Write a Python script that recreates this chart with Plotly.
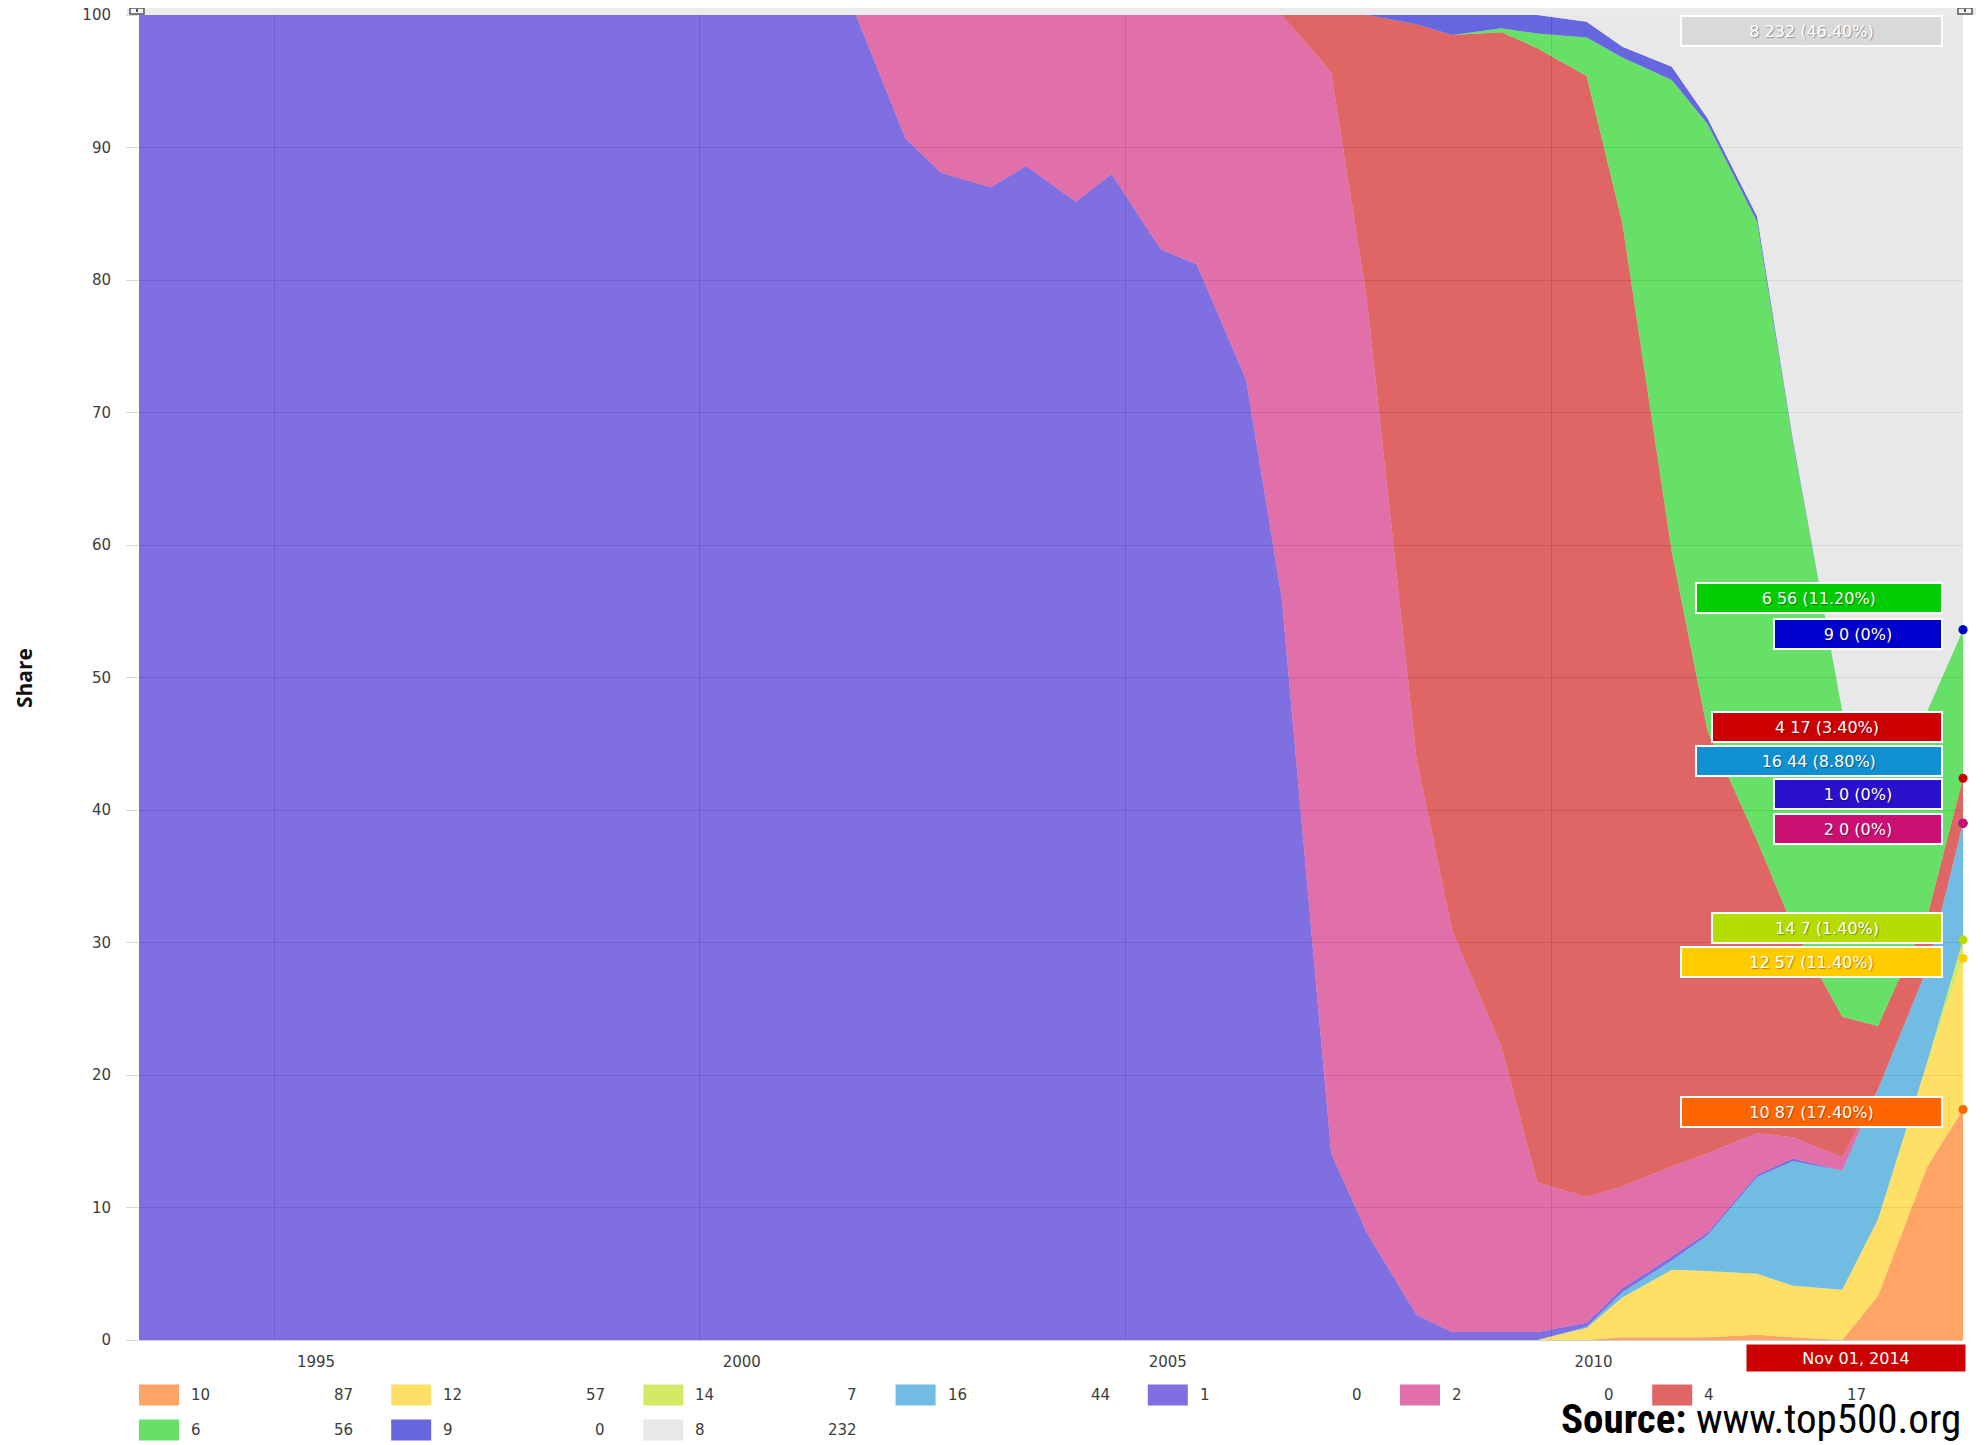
"""TOP500 share of systems by cores per socket, 1993-2014, as a stacked area chart."""

import plotly.graph_objects as go

# one list every June and November
DATES = [f"{year}-{month}-01" for year in range(1993, 2015) for month in ("06", "11")]

# series in stacking order, bottom to top
NAMES = ["10", "12", "14", "16", "1", "2", "4", "6", "9", "8"]

# share of the list (%), one value per date
SHARE_10 = [
    0, 0, 0, 0, 0, 0, 0, 0, 0, 0,
    0, 0, 0, 0, 0, 0, 0, 0, 0, 0,
    0, 0, 0, 0, 0, 0, 0, 0, 0, 0,
    0, 0, 0, 0, 0, 0.2, 0.2, 0.2, 0.4, 0.2,
    0, 3.3, 13.1, 17.4,
]
SHARE_12 = [
    0, 0, 0, 0, 0, 0, 0, 0, 0, 0,
    0, 0, 0, 0, 0, 0, 0, 0, 0, 0,
    0, 0, 0, 0, 0, 0, 0, 0, 0, 0,
    0, 0, 0, 0, 0.9, 3.0, 5.1, 5.0, 4.6, 3.9,
    3.8, 5.8, 7.9, 11.4,
]
SHARE_14 = [
    0, 0, 0, 0, 0, 0, 0, 0, 0, 0,
    0, 0, 0, 0, 0, 0, 0, 0, 0, 0,
    0, 0, 0, 0, 0, 0, 0, 0, 0, 0,
    0, 0, 0, 0, 0, 0, 0, 0, 0, 0,
    0, 0, 0, 1.4,
]
SHARE_16 = [
    0, 0, 0, 0, 0, 0, 0, 0, 0, 0,
    0, 0, 0, 0, 0, 0, 0, 0, 0, 0,
    0, 0, 0, 0, 0, 0, 0, 0, 0, 0,
    0, 0, 0, 0, 0.1, 0.4, 0.7, 2.7, 7.3, 9.4,
    9.0, 9.8, 7.1, 8.8,
]
SHARE_1 = [
    100, 100, 100, 100, 100, 100, 100, 100, 100, 100,
    100, 100, 100, 100, 100, 100, 100, 100, 90.7, 88.1,
    87.0, 88.6, 85.9, 88.0, 82.3, 81.2, 72.5, 56.0, 14.1, 8.1,
    1.9, 0.6, 0.6, 0.6, 0.3, 0.3, 0.3, 0.2, 0.2, 0.2,
    0, 0, 0, 0,
]
SHARE_2 = [
    0, 0, 0, 0, 0, 0, 0, 0, 0, 0,
    0, 0, 0, 0, 0, 0, 0, 0, 9.3, 11.9,
    13.0, 11.4, 14.1, 12.0, 17.7, 18.8, 27.5, 44.0, 81.6, 70.5,
    42.0, 30.3, 21.5, 11.3, 9.5, 7.7, 6.8, 6.0, 3.1, 1.6,
    1.0, 0, 0, 0,
]
SHARE_4 = [
    0, 0, 0, 0, 0, 0, 0, 0, 0, 0,
    0, 0, 0, 0, 0, 0, 0, 0, 0, 0,
    0, 0, 0, 0, 0, 0, 0, 0, 4.3, 21.4,
    55.4, 67.6, 76.6, 85.6, 84.6, 72.7, 46.4, 31.9, 22.1, 15.9,
    10.6, 4.8, 3.9, 3.4,
]
SHARE_6 = [
    0, 0, 0, 0, 0, 0, 0, 0, 0, 0,
    0, 0, 0, 0, 0, 0, 0, 0, 0, 0,
    0, 0, 0, 0, 0, 0, 0, 0, 0, 0,
    0, 0, 0.3, 1.1, 2.9, 12.5, 35.6, 45.8, 46.7, 36.6,
    23.1, 23.8, 15.5, 11.2,
]
SHARE_9 = [
    0, 0, 0, 0, 0, 0, 0, 0, 0, 0,
    0, 0, 0, 0, 0, 0, 0, 0, 0, 0,
    0, 0, 0, 0, 0, 0, 0, 0, 0, 0,
    0.7, 1.5, 1.0, 1.4, 1.2, 0.8, 1.0, 0.4, 0.4, 0.2,
    0, 0, 0, 0,
]
SHARE_8 = [
    0, 0, 0, 0, 0, 0, 0, 0, 0, 0,
    0, 0, 0, 0, 0, 0, 0, 0, 0, 0,
    0, 0, 0, 0, 0, 0, 0, 0, 0, 0,
    0, 0, 0, 0, 0.5, 2.4, 3.9, 7.8, 15.2, 32.0,
    52.5, 52.5, 52.5, 46.4,
]
SERIES = [SHARE_10, SHARE_12, SHARE_14, SHARE_16, SHARE_1,
          SHARE_2, SHARE_4, SHARE_6, SHARE_9, SHARE_8]

X_TICKS = ["1995-01-01", "2000-01-01", "2005-01-01", "2010-01-01"]
X_TICK_TEXT = ["1995", "2000", "2005", "2010"]
LIST_SIZE = 500
CURRENT_LABEL = "Nov 01, 2014"

COLORS = ["#FF6600", "#FFCC00", "#B4DC00", "#1090D0", "#2A0FCC",
          "#CC0F72", "#CC0000", "#00CC00", "#0000CC", "#D9D9D9"]
# where each end-of-series flag sits (y, in %) once they are spread out
FLAG_Y = [17.2, 28.5, 31.1, 43.7, 41.2, 38.6, 46.3, 56.0, 53.3, 98.8]

# the page body keeps its default 8px margin, so the figure is drawn 8px in
PAGE_W, PAGE_H, BODY = 1988, 1445, 8
WIDTH, HEIGHT = PAGE_W - BODY, PAGE_H - BODY
# plot box, in page pixels
PLOT_L, PLOT_R, PLOT_T, PLOT_B = 139, 1963, 15, 1340
FONT = "DejaVu Sans, Verdana, sans-serif"
TEXT = "#3C3C3C"
GRID = "#D6D6D6"


def rgba(hex_color, alpha):
    r, g, b = (int(hex_color[i:i + 2], 16) for i in (1, 3, 5))
    return f"rgba({r},{g},{b},{alpha})"


def px_x(px):
    return (px - PLOT_L) / (PLOT_R - PLOT_L)


def px_y(py):
    return (PLOT_B - py) / (PLOT_B - PLOT_T)


fig = go.Figure()
for name, color, values in zip(NAMES, COLORS, SERIES):
    fig.add_trace(
        go.Scatter(
            x=DATES,
            y=values,
            name=name,
            mode="lines",
            stackgroup="cores",
            line={"width": 0, "color": color},
            fillcolor=rgba(color, 0.6),
            hovertemplate="%{y:.1f}%<extra>" + name + "</extra>",
        )
    )

# dots at the last list, on top of each stacked band
tops = []
running = 0.0
for values in SERIES:
    running += values[-1]
    tops.append(running)
fig.add_trace(
    go.Scatter(
        x=[DATES[-1]] * (len(NAMES) - 1),
        y=tops[:-1],
        mode="markers",
        marker={"color": COLORS[:-1], "size": 9},
        cliponaxis=False,
        showlegend=False,
        hoverinfo="skip",
    )
)

annotations = []
shapes = []

# end-of-series flags
for name, color, values, flag_y in zip(NAMES, COLORS, SERIES, FLAG_Y):
    share = values[-1]
    count = round(share * LIST_SIZE / 100)
    pct = "0%" if share == 0 else f"{share:.2f}%"
    text = f"{name} {count} ({pct})"
    annotations.append(
        dict(
            x=DATES[-1], y=flag_y, xref="x", yref="y",
            text=text, showarrow=False,
            xanchor="right", yanchor="middle", xshift=-20,
            width=15.5 * len(text) + 40, height=26,
            bgcolor=color, bordercolor="white", borderwidth=2,
            font={"family": FONT, "size": 16, "color": "white",
                  "shadow": "1px 1px 1px rgba(0,0,0,0.35)"},
        )
    )

# hand-made legend: two rows below the axis
legend_font = {"family": FONT, "size": 15, "color": TEXT}
for i, (name, color, values) in enumerate(zip(NAMES, COLORS, SERIES)):
    row, col = divmod(i, 7)
    left = PLOT_L + 252.2 * col
    mid = 1395 + 35 * row
    shapes.append(
        dict(
            type="rect", xref="paper", yref="paper",
            x0=px_x(left), x1=px_x(left + 40), y0=px_y(mid + 10.5), y1=px_y(mid - 10.5),
            fillcolor=rgba(color, 0.6), line={"width": 0},
        )
    )
    annotations.append(
        dict(x=px_x(left + 50), y=px_y(mid), xref="paper", yref="paper", text=name,
             showarrow=False, xanchor="left", yanchor="middle", font=legend_font)
    )
    annotations.append(
        dict(x=px_x(left + 216), y=px_y(mid), xref="paper", yref="paper",
             text=str(round(values[-1] * LIST_SIZE / 100)),
             showarrow=False, xanchor="right", yanchor="middle", font=legend_font)
    )

# date flag under the right end of the axis
annotations.append(
    dict(x=px_x(1856), y=px_y(1357.5), xref="paper", yref="paper", text=CURRENT_LABEL,
         showarrow=False, xanchor="center", yanchor="middle",
         width=216, height=24, bgcolor="#CC0000",
         font={"family": FONT, "size": 16, "color": "white"})
)

# axis title and source note
annotations.append(
    dict(x=px_x(24), y=px_y(678), xref="paper", yref="paper", text="Share",
         textangle=-90, showarrow=False, xanchor="center", yanchor="middle",
         font={"family": "Liberation Sans Narrow, Open Sans", "size": 21,
               "color": "#111", "weight": "bold"})
)
annotations.append(
    dict(x=1.0, y=px_y(1445), xref="paper", yref="paper",
         text="<b>Source:</b> www.top500.org", showarrow=False,
         xanchor="right", yanchor="bottom",
         font={"family": "Liberation Sans Narrow, Roboto Condensed, Roboto", "size": 41,
               "color": "black"})
)

# navigator strip with its two handles above the plot
shapes.append(
    dict(type="rect", xref="paper", yref="paper", x0=px_x(127), x1=px_x(1976),
         y0=px_y(15), y1=px_y(BODY), fillcolor="#EBEBEB", line={"width": 0}, layer="below")
)
for hx in (130, 1958):
    shapes.append(
        dict(type="rect", xref="paper", yref="paper", x0=px_x(hx), x1=px_x(hx + 14),
             y0=px_y(14), y1=px_y(BODY), fillcolor="#F7F7F7", line={"width": 1.5, "color": "#555"})
    )
    shapes.append(
        dict(type="line", xref="paper", yref="paper", x0=px_x(hx + 7), x1=px_x(hx + 7),
             y0=px_y(12), y1=px_y(BODY + 1), line={"width": 2, "color": "#555"})
    )

fig.update_layout(
    width=WIDTH,
    height=HEIGHT,
    margin={"l": PLOT_L - BODY, "r": PAGE_W - PLOT_R, "t": PLOT_T - BODY, "b": PAGE_H - PLOT_B},
    paper_bgcolor="white",
    plot_bgcolor="white",
    showlegend=False,
    font={"family": FONT, "color": TEXT},
    annotations=annotations,
    shapes=shapes,
    hovermode="x",
)
fig.update_xaxes(
    type="date",
    range=[DATES[0], DATES[-1]],
    tickvals=X_TICKS,
    ticktext=X_TICK_TEXT,
    ticklabelshift=42,
    ticklabelstandoff=8,
    tickfont={"family": FONT, "size": 15, "color": TEXT},
    showgrid=True,
    gridcolor=GRID,
    showline=True,
    linecolor="#CCCCCC",
    zeroline=False,
    automargin=False,
)
fig.update_yaxes(
    range=[0, 100],
    dtick=10,
    ticks="outside",
    ticklen=12,
    tickcolor=GRID,
    ticklabelstandoff=12,
    ticklabeloverflow="allow",
    tickfont={"family": FONT, "size": 15, "color": TEXT},
    gridcolor=GRID,
    zeroline=False,
    automargin=False,
)

fig.write_html("out.html")
